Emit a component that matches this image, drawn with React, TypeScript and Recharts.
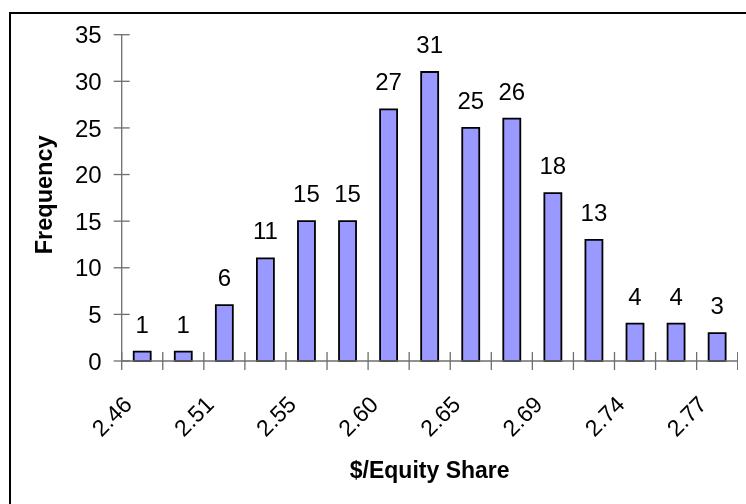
import { Bar, BarChart, Label, LabelList, XAxis, YAxis } from 'recharts'

const bins = ['2.46', '2.48', '2.51', '2.53', '2.55', '2.58', '2.60', '2.62', '2.65', '2.67', '2.69', '2.72', '2.74', '2.76', '2.77']
const frequency = [1, 1, 6, 11, 15, 15, 27, 31, 25, 26, 18, 13, 4, 4, 3]
const yTicks = [0, 5, 10, 15, 20, 25, 30, 35]

const data = bins.map((bin, i) => ({ bin, freq: frequency[i] }))

const FONT = '"Liberation Sans", Arial, Helvetica, sans-serif'
const AXIS = '#6e6e6e'
const PLOT_WIDTH = 616

function XTick(props: any) {
  const { x, y, payload, index } = props
  const count = props.visibleTicksCount || bins.length
  const axisWidth = props.width || PLOT_WIDTH
  const half = axisWidth / count / 2
  const px = x - 9
  const py = y + 45
  return (
    <g>
      <line x1={x - half} x2={x - half} y1={y - 9} y2={y + 9} stroke={AXIS} strokeWidth={1.3} />
      {index === bins.length - 1 && (
        <line x1={x + half} x2={x + half} y1={y - 9} y2={y + 9} stroke={AXIS} strokeWidth={1.3} />
      )}
      {index % 2 === 0 && (
        <text
          x={px}
          y={py}
          transform={`rotate(-45, ${px}, ${py})`}
          textAnchor="end"
          fontSize={23}
          fontFamily={FONT}
          fill="#000"
        >
          {payload.value}
        </text>
      )}
    </g>
  )
}

function YTick(props: any) {
  const { x, y, payload } = props
  return (
    <g>
      <line x1={x - 8} x2={x + 8} y1={y} y2={y} stroke={AXIS} strokeWidth={1.3} />
      <text x={x - 20} y={y} dy="0.36em" textAnchor="end" fontSize={24} fontFamily={FONT} fill="#000">
        {payload.value}
      </text>
    </g>
  )
}

function XTitle(props: any) {
  const vb = props.viewBox
  return (
    <text
      x={vb.x + vb.width / 2}
      y={vb.y + 117}
      textAnchor="middle"
      fontSize={23}
      fontWeight="bold"
      fontFamily={FONT}
      fill="#000"
    >
      $/Equity Share
    </text>
  )
}

function YTitle(props: any) {
  const vb = props.viewBox
  const cx = vb.x + vb.width - 78
  const cy = vb.y + vb.height / 2 - 3
  return (
    <text
      x={cx}
      y={cy}
      dy="0.36em"
      transform={`rotate(-90, ${cx}, ${cy})`}
      textAnchor="middle"
      fontSize={23.5}
      fontWeight="bold"
      fontFamily={FONT}
      fill="#000"
    >
      Frequency
    </text>
  )
}

export default function App() {
  return (
    <div style={{ position: 'relative', width: 731, height: 488 }}>
      <div
        style={{
          position: 'fixed',
          left: 9,
          top: 12,
          width: 900,
          height: 700,
          border: '2px solid #000',
          pointerEvents: 'none',
        }}
      />
      <BarChart
        width={731}
        height={488}
        data={data}
        margin={{ top: 26.7, right: 1.3, bottom: 0, left: 0 }}
      >
        <XAxis
          dataKey="bin"
          interval={0}
          height={135}
          tickSize={0}
          tickMargin={0}
          tickLine={false}
          axisLine={{ stroke: AXIS, strokeWidth: 1.3 }}
          tick={(p: any) => <XTick {...p} />}
        >
          <Label content={XTitle} />
        </XAxis>
        <YAxis
          width={113.7}
          domain={[0, 35]}
          ticks={yTicks}
          interval={0}
          tickSize={0}
          tickMargin={0}
          tickLine={false}
          axisLine={{ stroke: AXIS, strokeWidth: 1.3 }}
          tick={(p: any) => <YTick {...p} />}
        >
          <Label content={YTitle} />
        </YAxis>
        <Bar dataKey="freq" barSize={17} fill="#9999ff" stroke="#000" strokeWidth={1.8} isAnimationActive={false}>
          <LabelList dataKey="freq" position="top" offset={19} fill="#000" fontSize={24} fontFamily={FONT} />
        </Bar>
      </BarChart>
    </div>
  )
}
